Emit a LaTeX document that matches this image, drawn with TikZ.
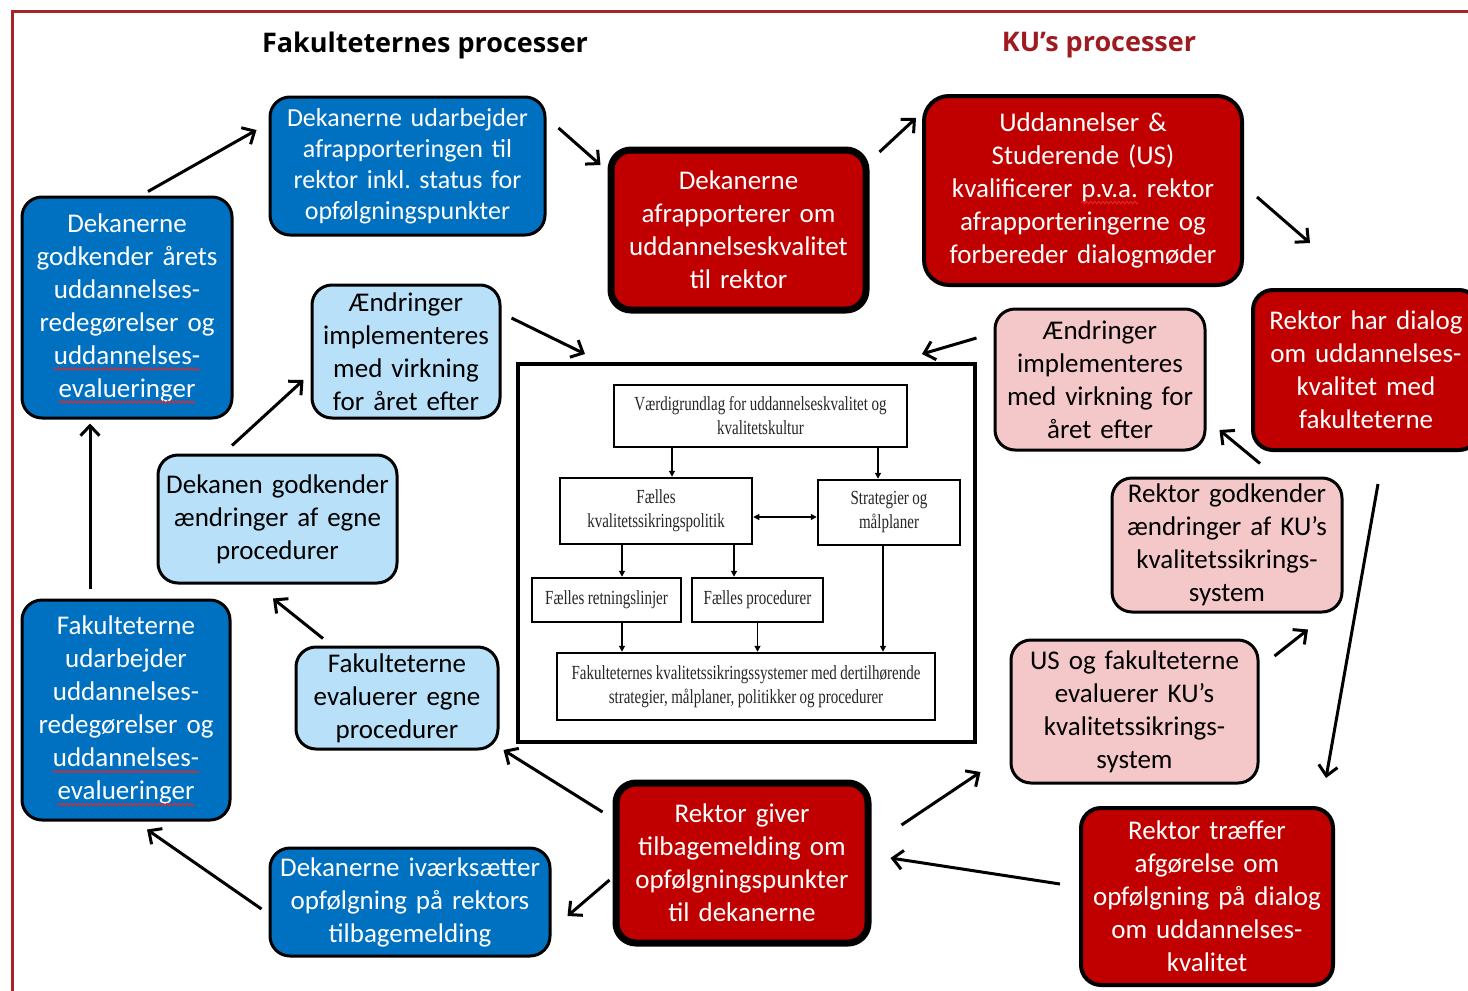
\documentclass[tikz,border=0pt]{standalone}
\usepackage{fontspec}
\setmainfont{Carlito}
\newfontfamily\titlefont{Open Sans}
\newfontfamily\condserif[FakeStretch=0.75]{Liberation Serif}
\usetikzlibrary{arrows.meta,decorations.pathmorphing}
\definecolor{kublue}{RGB}{0,112,192}
\definecolor{kulightblue}{RGB}{184,224,248}
\definecolor{kured}{RGB}{192,0,0}
\definecolor{kupink}{RGB}{244,199,201}
\definecolor{frameRed}{RGB}{168,34,42}
\definecolor{titleRed}{RGB}{158,28,33}
\definecolor{spellred}{RGB}{230,40,40}
\newcommand\wsp{\hspace{3.5pt}}
\newsavebox\wavebox
\newcommand\redwave[1]{\sbox\wavebox{#1}\usebox\wavebox\llap{\tikz[baseline=0pt,x=1pt,y=1pt,sharp corners,line width=0.9pt]{\useasboundingbox (0,0) rectangle (\wd\wavebox,0);\draw[spellred, sharp corners, decorate, decoration={snake,amplitude=1.3pt,segment length=4pt}] (0,-5) -- (\wd\wavebox,-5);}}}
\tikzset{
  basebox/.style={draw=black, line width=3, rounded corners=20, align=center, inner sep=0pt,
    font=\frenchspacing\fontsize{27}{33}\selectfont},
  bluebox/.style={basebox, fill=kublue, text=white},
  lbluebox/.style={basebox, fill=kulightblue, text=black},
  redbox/.style={basebox, fill=kured, text=white},
  pinkbox/.style={basebox, fill=kupink, text=black},
  thickred/.style={redbox, line width=7},
  bigframe/.style={draw=black, line width=4, inner sep=0pt},
  inbox/.style={draw=black, line width=2.5, inner sep=0pt, align=center, text=black!85,
    font=\condserif\fontsize{20}{24}\selectfont},
  arr/.style={line width=3, -{Straight Barb[length=10pt,width=19pt]}},
  carr/.style={line width=1.2, -{Triangle[length=6pt,width=6pt]}},
  cdarr/.style={line width=1.2, {Triangle[length=6pt,width=6pt]}-{Triangle[length=6pt,width=6pt]}},
  titlestyle/.style={font=\titlefont\bfseries\fontsize{27}{32}\selectfont, inner sep=0pt}
}
\begin{document}
\begin{tikzpicture}[x=1pt,y=-1pt]
\useasboundingbox (0,0) rectangle (1468,991);
\fill[white] (0,0) rectangle (1468,991);
\draw[frameRed, line width=3] (12,995) -- (12,11) -- (1470,11);

\node[titlestyle] (t1) at (425,45) {Fakulteternes processer};
\node[titlestyle, text=titleRed] (t2) at (1099,45) {KU’s processer};

% blue boxes
\node[bluebox, minimum width=275, minimum height=138, text width=265,
  font=\frenchspacing\fontsize{26}{31}\selectfont] (B1) at (407.5,166)
  {Dekanerne udarbejder\\afrapporteringen til\\rektor inkl. status for\\opfølgningspunkter};
\node[bluebox, minimum width=210, minimum height=221, text width=200] (B2) at (127,307.5)
  {Dekanerne\\godkender årets\\uddannelses-\\redegørelser og\\\redwave{uddannelses-}\\\redwave{evalueringer}};
\node[bluebox, minimum width=208, minimum height=220, text width=200] (B3) at (126,710)
  {Fakulteterne\\udarbejder\\uddannelses-\\redegørelser og\\\redwave{uddannelses-}\\\redwave{evalueringer}};
\node[bluebox, minimum width=280, minimum height=108, text width=272] (B4) at (410,902)
  {Dekanerne iværksætter\\opfølgning på rektors\\tilbagemelding};

% light blue boxes
\node[lbluebox, minimum width=188, minimum height=133, text width=180] (L1) at (406,351.5)
  {Ændringer\\implementeres\\med virkning\\for året efter};
\node[lbluebox, minimum width=239, minimum height=128, text width=231] (L2) at (277.5,519)
  {Dekanen godkender\\ændringer af egne\\procedurer};
\node[lbluebox, minimum width=202, minimum height=102, text width=194] (L3) at (397,698)
  {Fakulteterne\\evaluerer egne\\procedurer};

% red boxes
\node[thickred, minimum width=255, minimum height=160, text width=245] (R1) at (738.5,230)
  {Dekanerne\\afrapporterer om\\uddannelseskvalitet\\til rektor};
\node[redbox, line width=4, minimum width=318, minimum height=189, text width=308, rounded corners=25] (R2) at (1083,190.5)
  {Uddannelser \&\\Studerende (US)\\kvalificerer \redwave{p.v.a.} rektor\\afrapporteringerne og\\forbereder dialogmøder};
\node[redbox, line width=4, minimum width=226, minimum height=160, text width=218] (R3) at (1366,370)
  {Rektor har dialog\\om uddannelses-\\kvalitet med\\fakulteterne};
\node[redbox, line width=4, minimum width=252, minimum height=177, text width=244] (R4) at (1207,896.5)
  {Rektor træffer\\afgørelse om\\opfølgning på dialog\\om uddannelses-\\kvalitet};
\node[thickred, minimum width=252, minimum height=160, text width=242] (R5) at (742,863)
  {Rektor giver\\tilbagemelding om\\opfølgningspunkter\\til dekanerne};

% pink boxes
\node[pinkbox, minimum width=210, minimum height=141, text width=202] (P1) at (1100,379.5)
  {Ændringer\\implementeres\\med virkning for\\året efter};
\node[pinkbox, minimum width=230, minimum height=134, text width=222] (P2) at (1227,545)
  {Rektor godkender\\ændringer af KU’s\\kvalitetssikrings-\\system};
\node[pinkbox, minimum width=247, minimum height=143, text width=239] (P3) at (1134.5,711.5)
  {US og fakulteterne\\evaluerer KU’s\\kvalitetssikrings-\\system};

% centre diagram
\node[bigframe, minimum width=457, minimum height=378] (CB) at (746.5,553) {};
\node[inbox, minimum width=293, minimum height=62, text width=285] (C1) at (760.5,416)
  {Værdigrundlag\wsp for\wsp uddannelseskvalitet\wsp og\\kvalitetskultur};
\node[inbox, minimum width=192, minimum height=66, text width=184] (C2) at (656,511)
  {Fælles\\kvalitetssikringspolitik};
\node[inbox, minimum width=142, minimum height=65, text width=134] (C3) at (889,512.5)
  {Strategier\wsp og\\målplaner};
\node[inbox, minimum width=149, minimum height=44, text width=145] (C4) at (606.5,600)
  {Fælles\wsp retningslinjer};
\node[inbox, minimum width=131, minimum height=44, text width=127] (C5) at (757.5,600)
  {Fælles\wsp procedurer};
\node[inbox, minimum width=378, minimum height=67, text width=372] (C6) at (746,686.5)
  {Fakulteternes\wsp kvalitetssikringssystemer\wsp med\wsp dertilhørende\\strategier,\wsp målplaner,\wsp politikker\wsp og\wsp procedurer};

\draw[carr] ([xshift=16]C2.north |- C1.south) -- ([xshift=16]C2.north);
\draw[carr] ([xshift=-11]C3.north |- C1.south) -- ([xshift=-11]C3.north);
\draw[cdarr] ([yshift=-6]C2.east) -- ([yshift=-6]C2.east -| C3.west);
\draw[carr] ([xshift=15.5]C4.north |- C2.south) -- ([xshift=15.5]C4.north);
\draw[carr] ([xshift=-23.5]C5.north |- C2.south) -- ([xshift=-23.5]C5.north);
\draw[carr] ([xshift=15.5]C4.south) -- ([xshift=15.5]C4.south |- C6.north);
\draw[carr] (C5.south) -- (C5.south |- C6.north);
\draw[carr] ([xshift=-6]C3.south) -- ([xshift=-6]C3.south |- C6.north);

% cycle arrows
\draw[arr] ([shift={(21,-4)}]B2.north) -- ([shift={(-12,-36)}]B1.west);
\draw[arr] ([shift={(12,-38)}]B1.east) -- ([shift={(-7,-65)}]R1.west);
\draw[arr] ([shift={(10,-78)}]R1.east) -- ([shift={(-6,-72.5)}]R2.west);
\draw[arr] ([shift={(13,6.5)}]R2.east) -- ([shift={(-56,-45)}]R3.north);
\draw[arr] ([shift={(12,32)}]R3.south) -- ([shift={(119,-28)}]R4.north);
\draw[arr] ([shift={(-19,-12.5)}]R4.west) -- ([shift={(19,-5)}]R5.east);
\draw[arr] ([shift={(30,-38)}]R5.east) -- ([shift={(-29,60.5)}]P3.west);
\draw[arr] ([shift={(15,-55.5)}]P3.east) -- ([shift={(81,16)}]P2.south);
\draw[arr] ([shift={(33,-13)}]P2.north) -- ([shift={(13,50.5)}]P1.east);
\draw[arr] ([shift={(-17,-41.5)}]P1.west) -- ([shift={(175.5,-8)}]CB.north);
\draw[arr] ([shift={(10,-33.5)}]L1.east) -- ([shift={(-161.5,-8)}]CB.north);
\draw[arr] ([shift={(-45.5,-8)}]L2.north) -- ([shift={(-7,28.5)}]L1.west);
\draw[arr] ([shift={(-74,-7)}]L3.north) -- ([shift={(-4.5,14)}]L2.south);
\draw[arr] ([shift={(-10,-51)}]R5.west) -- ([shift={(4,52)}]L3.east);
\draw[arr] ([shift={(-3,17)}]R5.west) -- ([shift={(16,14)}]B4.east);
\draw[arr] ([shift={(-7,7)}]B4.west) -- ([shift={(21,8)}]B3.south);
\draw[arr] ([shift={(-36,-10)}]B3.north) -- ([shift={(-37,4)}]B2.south);
\end{tikzpicture}
\end{document}
